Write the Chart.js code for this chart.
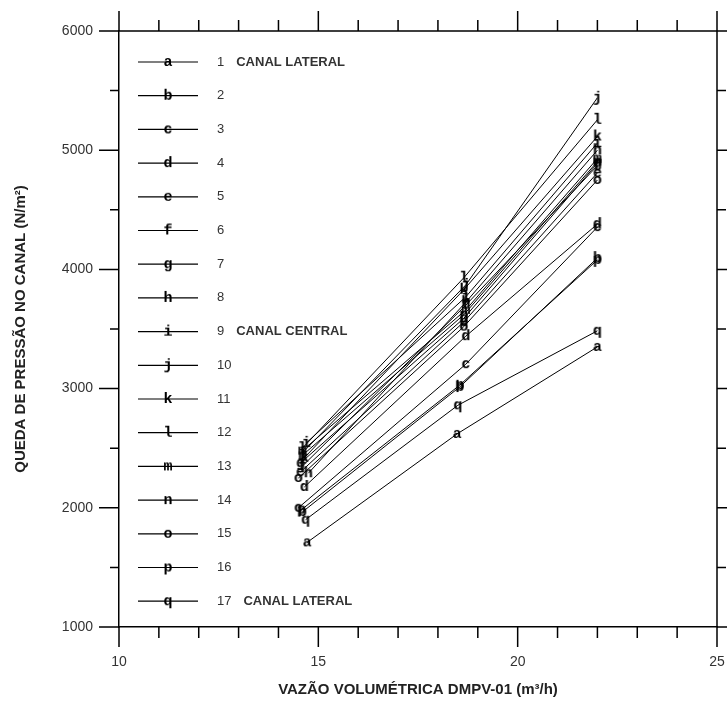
<!DOCTYPE html>
<html>
<head>
<meta charset="utf-8">
<script src="https://cdn.jsdelivr.net/npm/chart.js@4.4.0/dist/chart.umd.min.js"></script>
<style>
  html, body { margin: 0; padding: 0; background: #fff; }
  #wrap { width: 727px; height: 709px; }
</style>
</head>
<body>
<div id="wrap"><canvas id="grafico"></canvas></div>
<script>
// letras dos canais (1..17)
var letras = ['a','b','c','d','e','f','g','h','i','j','k','l','m','n','o','p','q'];
var numeros = [1,2,3,4,5,6,7,8,9,10,11,12,13,14,15,16,17];
var rotulos = ['CANAL LATERAL','','','','','','','','CANAL CENTRAL','','','','','','','','CANAL LATERAL'];

// vazao (m3/h) de cada canal
var vazao = [
  [14.72, 18.48, 22], [14.60, 18.55, 22], [14.50, 18.70, 22], [14.65, 18.70, 22],
  [14.55, 18.65, 22], [14.60, 18.70, 22], [14.55, 18.65, 22], [14.75, 18.70, 22],
  [14.70, 18.70, 22], [14.60, 18.70, 22], [14.65, 18.65, 22], [14.60, 18.65, 22],
  [14.60, 18.70, 22], [14.60, 18.65, 22], [14.50, 18.65, 22], [14.58, 18.55, 22],
  [14.68, 18.50, 22]
];
// queda de pressao (N/m2) de cada canal
var queda = [
  [1710, 2620, 3350], [1965, 3015, 4095], [2000, 3205, 4355], [2175, 3440, 4380],
  [2300, 3560, 4810], [2350, 3700, 4870], [2375, 3590, 4890], [2290, 3725, 5000],
  [2545, 3770, 5060], [2460, 3870, 5440], [2420, 3830, 5115], [2500, 3930, 5255],
  [2480, 3660, 4930], [2440, 3620, 4905], [2250, 3520, 4750], [1985, 3030, 4080],
  [1900, 2860, 3485]
];

var xTicks = [10, 15, 20, 25];
var yTicks = [1000, 2000, 3000, 4000, 5000, 6000];

// marcador = letra desenhada num canvas
function marcador(letra) {
    var c = document.createElement('canvas');
    c.width = 12; c.height = 16;
    var g = c.getContext('2d');
    g.fillStyle = '#000';
    g.font = 'bold 15px "Liberation Mono"';
    g.textAlign = 'center';
    g.textBaseline = 'middle';
    g.fillText(letra, 6, 8);
    return c;
}

var datasets = letras.map(function (l, i) {
    return {
        label: String(numeros[i]),
        data: vazao[i].map(function (x, k) { return { x: x, y: queda[i][k] }; }),
        borderColor: '#000',
        backgroundColor: '#000',
        borderWidth: 1,
        pointStyle: marcador(l),
        pointRadius: 6,
        tension: 0
    };
});

// ticks menores e moldura de cima / direita
var moldura = {
    id: 'moldura',
    afterDraw: function (chart) {
        var ctx = chart.ctx, a = chart.chartArea;
        var sx = chart.scales.x, sy = chart.scales.y;
        ctx.save();
        ctx.strokeStyle = '#000';
        ctx.lineWidth = 1.5;
        ctx.beginPath();
        ctx.moveTo(a.left, a.top); ctx.lineTo(a.right, a.top);
        ctx.moveTo(a.right, a.top); ctx.lineTo(a.right, a.bottom);
        for (var v = 10; v <= 25; v++) {
            var px = sx.getPixelForValue(v);
            var major = v % 5 === 0;
            ctx.moveTo(px, a.bottom); ctx.lineTo(px, a.bottom + (major ? 20 : 11));
            ctx.moveTo(px, a.top); ctx.lineTo(px, a.top - (major ? 20 : 11));
        }
        for (var w = 1000; w <= 6000; w += 500) {
            var py = sy.getPixelForValue(w);
            var maj = w % 1000 === 0;
            ctx.moveTo(a.left, py); ctx.lineTo(a.left - (maj ? 20 : 9), py);
            ctx.moveTo(a.right, py); ctx.lineTo(a.right + (maj ? 20 : 9), py);
        }
        ctx.stroke();
        ctx.restore();
    }
};

// legenda dentro do grafico
var legenda = {
    id: 'legenda',
    afterDraw: function (chart) {
        var ctx = chart.ctx;
        ctx.save();
        for (var i = 0; i < letras.length; i++) {
            var y = 62 + i * 33.7;
            ctx.strokeStyle = '#000';
            ctx.lineWidth = 1.2;
            ctx.beginPath();
            ctx.moveTo(138, y); ctx.lineTo(198, y);
            ctx.stroke();
            ctx.drawImage(marcador(letras[i]), 162, y - 8);
            ctx.fillStyle = '#333';
            ctx.font = '13px "Liberation Sans"';
            ctx.textBaseline = 'middle';
            ctx.textAlign = 'left';
            ctx.fillText(numeros[i], 217, y);
            if (rotulos[i]) {
                var w = ctx.measureText(numeros[i]).width;
                ctx.font = 'bold 13px "Liberation Sans"';
                ctx.fillText(rotulos[i], 217 + w + 12, y);
            }
        }
        ctx.restore();
    }
};

var config = {
    type: 'line',
    data: { datasets: datasets },
    options: {
        responsive: true,
        maintainAspectRatio: false,
        animation: false,
        layout: { padding: { top: 31, right: 10, left: 0, bottom: 0 } },
        plugins: { legend: { display: false }, tooltip: { enabled: false } },
        scales: {
            x: {
                type: 'linear',
                min: 10, max: 25,
                afterFit: function (s) { s.height = 82; s.paddingLeft = 0; s.paddingRight = 0; },
                afterBuildTicks: function (s) { s.ticks = xTicks.map(function (v) { return { value: v }; }); },
                grid: { drawOnChartArea: false, drawTicks: false, tickLength: 20 },
                border: { color: '#000', width: 1.5 },
                ticks: {
                    padding: 27, color: '#333', maxRotation: 0,
                    font: { family: 'Liberation Sans', size: 14 },
                    callback: function (v) { return String(v); }
                },
                title: {
                    display: true,
                    text: 'VAZÃO VOLUMÉTRICA DMPV-01 (m³/h)',
                    color: '#222',
                    font: { family: 'Liberation Sans', size: 15, weight: 'bold' },
                    padding: { top: 0, bottom: 10 }
                }
            },
            y: {
                type: 'linear',
                min: 1000, max: 6000,
                afterFit: function (s) { s.width = 119; s.paddingTop = 0; s.paddingBottom = 0; },
                afterBuildTicks: function (s) { s.ticks = yTicks.map(function (v) { return { value: v }; }); },
                grid: { drawOnChartArea: false, drawTicks: false, tickLength: 20 },
                border: { color: '#000', width: 1.5 },
                ticks: {
                    padding: 26, color: '#333',
                    font: { family: 'Liberation Sans', size: 14 },
                    callback: function (v) { return String(v); }
                },
                title: {
                    display: true,
                    text: 'QUEDA DE PRESSÃO NO CANAL (N/m²)',
                    color: '#222',
                    font: { family: 'Liberation Sans', size: 15, weight: 'bold' },
                    padding: { top: 12, bottom: 0 }
                }
            }
        }
    },
    plugins: [moldura, legenda]
};

var grafico = new Chart(document.getElementById('grafico'), config);
</script>
</body>
</html>
